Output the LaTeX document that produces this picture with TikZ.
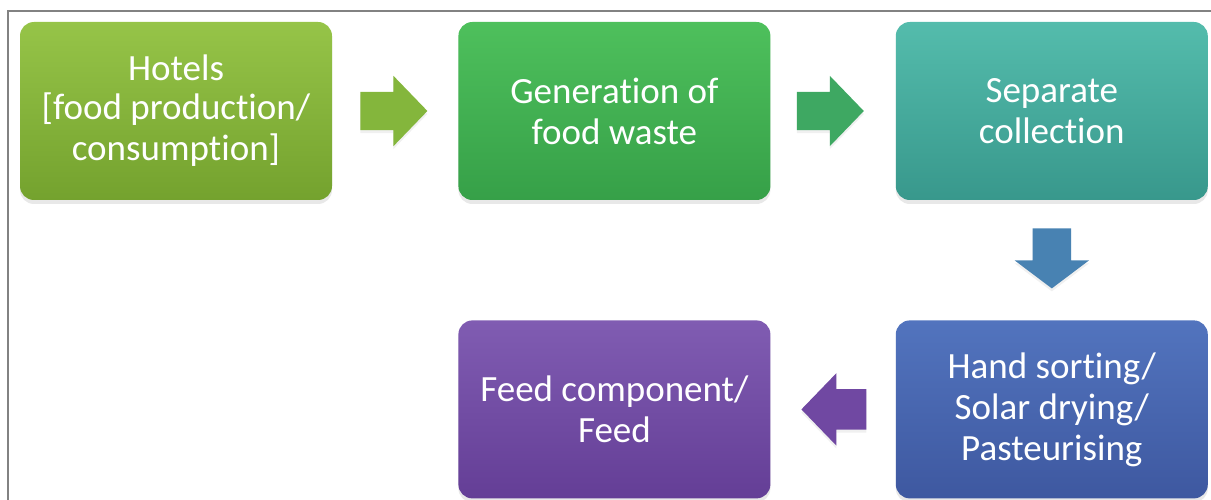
\documentclass[tikz,border=0pt]{standalone}
\usepackage{fontspec}
\setmainfont{Carlito}[Ligatures=NoCommon]
\usetikzlibrary{positioning,calc,shapes.arrows,shadows}

% box colours (top / bottom of the shading)
\definecolor{hotelTop}{RGB}{150,196,72}
\definecolor{hotelBot}{RGB}{116,162,46}
\definecolor{genTop}{RGB}{78,192,92}
\definecolor{genBot}{RGB}{54,160,72}
\definecolor{sepTop}{RGB}{84,188,172}
\definecolor{sepBot}{RGB}{56,152,140}
\definecolor{handTop}{RGB}{82,116,190}
\definecolor{handBot}{RGB}{62,88,160}
\definecolor{feedTop}{RGB}{128,92,178}
\definecolor{feedBot}{RGB}{100,62,150}
\definecolor{frameGray}{RGB}{130,130,130}

\tikzset{
  stepbox/.style={rectangle, rounded corners=14pt, minimum width=312pt,
    minimum height=178pt, inner sep=4pt, align=center, text=white,
    font=\fontsize{37}{41}\selectfont,
    drop shadow={shadow xshift=0pt, shadow yshift=-4pt, opacity=0.18}},
  % shaft width = 2 x inner ysep (inner xsep once the arrow points down)
  flow/.style={single arrow, draw=none, inner xsep=0pt, inner ysep=19pt,
    single arrow head extend=16pt, single arrow tip angle=92,
    drop shadow={shadow xshift=0pt, shadow yshift=-3pt, opacity=0.12}}
}

\begin{document}
\begin{tikzpicture}[x=1pt,y=-1pt]
\useasboundingbox (0,0) rectangle (1211,500);

% frame
\draw[frameGray, line width=1.5pt] (8,520) -- (8,11) -- (1230,11);

% top row
\node[stepbox, top color=hotelTop, bottom color=hotelBot] (hotels) at (176,111)
  {Hotels\\[-2pt] [food production/\\ consumption]};
\node[stepbox, top color=genTop, bottom color=genBot, right=126pt of hotels] (gen)
  {Generation of\\ food waste};
\node[stepbox, top color=sepTop, bottom color=sepBot, right=125pt of gen] (sep)
  {Separate\\ collection};

% bottom row
\node[stepbox, top color=handTop, bottom color=handBot, below=120pt of sep] (hand)
  {Hand sorting/\\ Solar drying/\\ Pasteurising};
\node[stepbox, top color=feedTop, bottom color=feedBot, left=125pt of hand] (feed)
  {Feed component/\\ Feed};

% block arrows between the steps
\node[flow, minimum height=67pt, right=28pt of hotels, anchor=tail,
  fill={rgb,255:red,132;green,182;blue,60}] (a1) {};
\node[flow, minimum height=67pt, right=26pt of gen, anchor=tail,
  fill={rgb,255:red,62;green,168;blue,98}] (a2) {};
\node[flow, minimum height=60pt, inner xsep=19pt, inner ysep=0pt,
  single arrow head extend=18pt, single arrow tip angle=106,
  shape border rotate=270, below=28pt of sep, anchor=tail,
  fill={rgb,255:red,72;green,130;blue,178}] (a3) {};
\node[flow, minimum height=65pt, inner ysep=20pt, shape border rotate=180,
  left=29pt of hand, anchor=tail,
  fill={rgb,255:red,112;green,72;blue,162}] (a4) {};

\end{tikzpicture}
\end{document}
